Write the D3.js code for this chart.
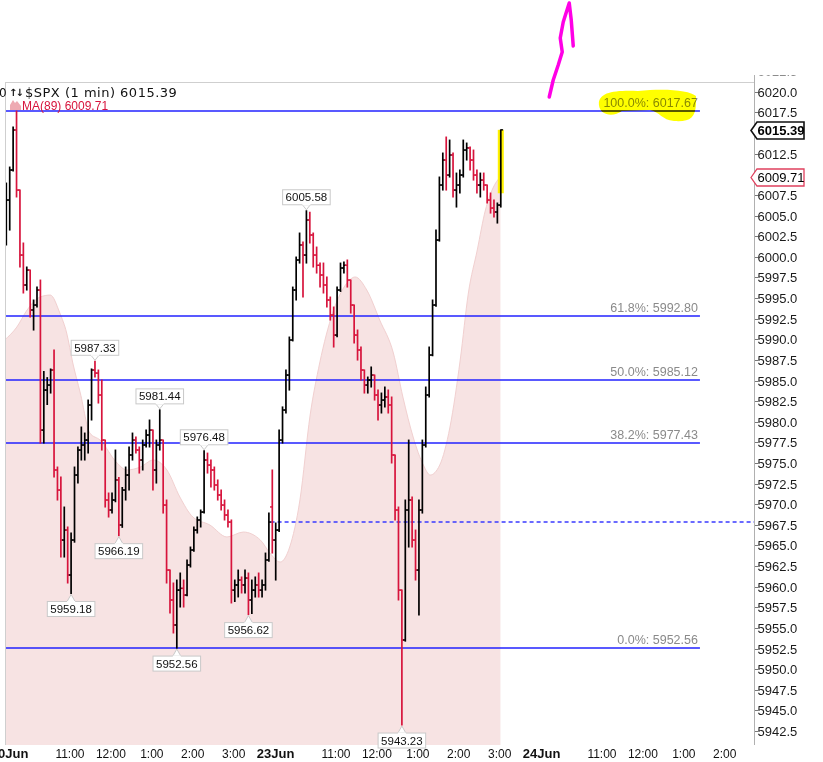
<!DOCTYPE html>
<html><head><meta charset="utf-8">
<script src="https://cdn.jsdelivr.net/npm/d3@7"></script>
<style>
html,body{margin:0;padding:0;background:#fff;}
svg{display:block;font-family:"Liberation Sans",Arial,sans-serif;}
</style></head><body>
<svg id="c" width="823" height="762"></svg>
<script>
// ---------- DATA ----------
const symbol = "$SPX (1 min)";
const lastPrice = 6015.39;
const maLabel = "MA(89)";
const maLast = 6009.71;
const prevClose = 5967.84;
const dayLabels = ["20Jun", "23Jun", "24Jun"];
const hourLabels = ["11:00", "12:00", "1:00", "2:00", "3:00"];
const hourMinutes = [90, 150, 210, 270, 330]; // minutes after the 9:30 open

// 5-minute OHLC bars, Friday 20 Jun
const jun20Open  = [6001.80,6006.88,6010.52,6015.37,6008.09,6000.21,5996.58,5998.39,5993.55,5994.15,5995.97,5978.99,5983.84,5984.45,5986.27,5974.15,5971.72,5965.66,5966.87,5961.42,5965.66,5973.54,5976.57,5977.18,5977.78,5982.03,5986.27,5985.90,5983.24,5977.78,5970.51,5969.30,5970.51,5972.94,5967.48,5971.72,5973.54,5975.97,5977.78,5976.57,5975.36,5977.18,5978.39,5978.99,5974.15,5977.18,5977.78,5969.90,5962.02,5958.39,5955.36,5959.59,5959.80,5958.99,5962.63,5964.45,5966.87,5968.09,5969.05,5975.36,5974.75,5974.15,5972.33,5971.12,5969.90,5968.69,5967.84,5959.59,5960.21,5960.81,5960.21,5961.05,5958.39,5959.59,5960.21,5959.59,5960.21,5963.24];
const jun20High  = [6008.94,6010.88,6015.73,6017.67,6008.09,6001.67,5998.76,5998.39,5994.76,5996.33,5997.18,5986.09,5985.35,5986.40,5988.70,5974.51,5973.30,5969.66,5967.24,5966.51,5974.51,5976.94,5979.36,5978.63,5982.63,5986.40,5987.33,5986.27,5985.06,5977.78,5971.36,5971.36,5976.57,5973.24,5972.03,5974.51,5976.94,5978.63,5978.15,5976.94,5977.78,5978.99,5980.21,5978.99,5977.78,5981.44,5977.78,5970.51,5962.02,5960.45,5960.81,5961.66,5960.81,5963.24,5964.81,5967.24,5968.45,5969.30,5976.48,5976.20,5975.36,5974.51,5972.94,5971.72,5970.51,5969.30,5968.09,5960.81,5962.02,5961.18,5962.02,5961.66,5960.81,5961.18,5961.66,5960.81,5964.08,5968.93];
const jun20Low   = [6001.43,6003.24,6010.40,6007.25,5998.76,5995.61,5995.97,5992.70,5991.12,5993.91,5977.42,5977.42,5982.09,5983.48,5973.30,5970.51,5963.60,5963.60,5960.45,5959.18,5965.40,5972.57,5975.36,5975.36,5976.21,5980.21,5985.42,5982.27,5976.57,5969.66,5968.45,5968.93,5970.30,5966.19,5967.20,5970.51,5971.72,5975.36,5976.21,5973.78,5974.15,5976.94,5976.94,5971.72,5972.57,5976.57,5968.93,5960.45,5956.81,5954.39,5952.56,5957.54,5957.54,5958.90,5962.39,5964.30,5966.51,5967.24,5968.93,5973.78,5972.09,5971.72,5970.51,5969.30,5968.09,5967.24,5958.03,5958.21,5958.76,5959.24,5959.24,5956.62,5956.75,5958.75,5958.75,5958.75,5959.59,5963.10];
const jun20Close = [6006.88,6010.52,6015.37,6008.09,6000.21,5996.58,5998.39,5993.55,5994.15,5995.97,5978.99,5983.84,5984.45,5986.27,5974.15,5971.72,5965.66,5966.87,5961.42,5965.66,5973.54,5976.57,5977.18,5977.78,5982.03,5986.27,5985.90,5983.24,5977.78,5970.51,5969.30,5970.51,5972.94,5967.48,5971.72,5973.54,5975.97,5977.78,5976.57,5975.36,5977.18,5978.39,5978.99,5974.15,5977.18,5977.78,5969.90,5962.02,5958.39,5955.36,5959.59,5959.80,5958.99,5962.63,5964.45,5966.87,5968.09,5969.05,5975.36,5974.75,5974.15,5972.33,5971.12,5969.90,5968.69,5967.84,5959.59,5960.21,5960.81,5960.21,5961.05,5958.39,5959.59,5960.21,5959.59,5960.21,5963.24,5967.84];

// 5-minute OHLC bars, Monday 23 Jun
const jun23Open  = [5969.67,5965.66,5966.87,5977.78,5981.42,5985.66,5989.91,5995.97,5999.61,6001.43,6000.21,6004.46,6002.64,6000.21,5998.97,5997.79,5996.58,5994.76,5992.94,5990.51,5995.97,5998.64,5998.97,5997.18,5994.15,5990.51,5988.70,5986.27,5984.45,5985.06,5985.66,5983.24,5982.03,5982.63,5983.00,5982.03,5975.97,5969.30,5959.59,5953.54,5969.30,5970.51,5965.66,5962.02,5969.30,5977.18,5983.24,5988.09,5994.15,6002.03,6008.70,6011.73,6009.91,6012.34,6008.09,6008.70,6009.91,6012.94,6013.20,6011.73,6009.91,6008.70,6009.30,6008.70,6006.88,6005.91,6005.43,6006.27];
const jun23High  = [5974.15,5967.72,5978.99,5981.80,5986.27,5990.27,5996.33,5999.97,6002.88,6001.80,6005.58,6005.40,6002.88,6001.18,5999.24,5999.24,5997.55,5995.12,5993.91,5996.33,5999.24,5999.37,5999.61,5997.18,5994.15,5991.12,5989.06,5986.27,5985.42,5986.64,5985.66,5983.85,5983.48,5984.21,5983.85,5983.00,5975.97,5969.66,5959.59,5970.51,5977.78,5970.87,5966.87,5970.51,5977.78,5984.21,5989.06,5994.76,6003.24,6009.67,6012.58,6014.52,6014.15,6012.58,6010.15,6010.52,6014.15,6013.79,6013.31,6012.94,6010.52,6010.15,6010.15,6008.70,6007.73,6006.88,6006.52,6015.39];
const jun23Low   = [5964.08,5960.81,5966.70,5977.42,5981.06,5983.84,5989.80,5994.76,5999.24,5995.12,5999.24,6001.67,5998.76,5998.03,5996.33,5995.61,5993.91,5992.33,5989.06,5990.30,5995.80,5998.03,5996.33,5993.18,5989.55,5987.48,5985.06,5983.48,5983.48,5984.21,5982.63,5980.21,5981.06,5981.79,5981.06,5975.00,5968.09,5958.39,5943.23,5953.40,5964.81,5964.81,5960.81,5956.57,5968.93,5976.94,5983.00,5988.00,5994.00,6001.90,6008.09,6008.09,6009.67,6007.25,6006.03,6007.73,6009.67,6011.73,6010.52,6009.30,6007.73,6007.25,6008.09,6006.52,6005.30,6004.82,6004.09,6006.03];
const jun23Close = [5965.66,5966.87,5977.78,5981.42,5985.66,5989.91,5995.97,5999.61,6001.43,6000.21,6004.46,6002.64,6000.21,5998.97,5997.79,5996.58,5994.76,5992.94,5990.51,5995.97,5998.64,5998.97,5997.18,5994.15,5990.51,5988.70,5986.27,5984.45,5985.06,5985.66,5983.24,5982.03,5982.63,5983.00,5982.03,5975.97,5969.30,5959.59,5953.54,5969.30,5970.51,5965.66,5962.02,5969.30,5977.18,5983.24,5988.09,5994.15,6002.03,6008.70,6011.73,6009.91,6012.34,6008.09,6008.70,6009.91,6012.94,6013.20,6011.73,6009.91,6008.70,6009.30,6008.70,6006.88,6005.91,6005.43,6006.27,6015.39];

// MA(89) read at selected minutes (minutes counted across sessions, 390 per day)
const maMinute = [0,18,33,52,67,81,91,100,111,125,140,165,179,199,218,238,257,276,301,326,350,375,389,404,418,433,448,462,481,502,514,531,550,570,584,599,614,624,638,653,668,680,693,705,716,727];
const maValue  = [5989.91,5991.49,5993.55,5995.12,5995.36,5993.18,5990.76,5987.12,5983.48,5978.63,5977.78,5974.99,5974.15,5974.51,5975.36,5974.15,5970.87,5968.45,5967.48,5966.03,5966.63,5965.66,5964.08,5962.99,5964.81,5970.51,5980.82,5987.12,5993.18,5996.82,5997.55,5995.97,5992.33,5988.33,5982.99,5978.15,5974.75,5973.54,5974.75,5979.36,5987.48,5995.61,6000.82,6005.67,6008.33,6009.71];

// Fibonacci retracement levels
const fibPct   = ["100.0%", "61.8%", "50.0%", "38.2%", "0.0%"];
const fibValue = [6017.67, 5992.80, 5985.12, 5977.43, 5952.56];

// swing high / low callouts: [day, bar index, type]
const swingDay  = [0, 0, 0, 1, 0, 0, 0, 0, 1];
const swingBar  = [26, 45, 58, 10, 19, 33, 50, 71, 38];
const swingType = ["H","H","H","H","L","L","L","L","L"];

// price-axis ticks (6010.0 and 6015.0 are covered by the value badges)
const yTicks = [5942.5,5945.0,5947.5,5950.0,5952.5,5955.0,5957.5,5960.0,5962.5,5965.0,5967.5,5970.0,5972.5,5975.0,5977.5,5980.0,5982.5,5985.0,5987.5,5990.0,5992.5,5995.0,5997.5,6000.0,6002.5,6005.0,6007.5,6012.5,6017.5,6020.0,6022.5];

// ---------- LAYOUT ----------
const W = 823, H = 762;
const plotL = 5, plotR = 754, plotT = 83, plotB = 745;
const minutesPerDay = 390;
const xS = d3.scaleLinear().domain([0, 1097]).range([4.6, 752.8]);
const yS = d3.scaleLinear().domain([5940.81, 6021.07]).range([plotB, plotT]);
const fibEndMinute = 1019.5;
const upColor = "#000000", downColor = "#d7143c";

const svg = d3.select("#c");
const defs = svg.append("defs");
defs.append("clipPath").attr("id","plotClip").append("rect")
  .attr("x",plotL).attr("y",plotT).attr("width",plotR-plotL).attr("height",plotB-plotT);
defs.append("clipPath").attr("id","axisClip").append("rect")
  .attr("x",plotR).attr("y",75.5).attr("width",W-plotR).attr("height",H-75.5);

svg.append("rect").attr("width",W).attr("height",H).attr("fill","#fff");

// bars
const dayBars = [[jun20Open,jun20High,jun20Low,jun20Close],[jun23Open,jun23High,jun23Low,jun23Close]];
const bars = [];
dayBars.forEach((a, d) => a[0].forEach((o, i) => bars.push({
  d, i, m: d*minutesPerDay + i*5 + 2.5, o, h: a[1][i], l: a[2][i], c: a[3][i]
})));

const plot = svg.append("g").attr("clip-path","url(#plotClip)");

// MA(89) shaded area
const maData = maMinute.map((m,i)=>({m, v: maValue[i]}));
plot.append("path").datum(maData)
  .attr("d", d3.area().curve(d3.curveMonotoneX).x(d=>xS(d.m)).y0(plotB).y1(d=>yS(d.v)))
  .attr("fill","#f7e3e3");
plot.append("path").datum(maData)
  .attr("d", d3.line().curve(d3.curveMonotoneX).x(d=>xS(d.m)).y(d=>yS(d.v)))
  .attr("fill","none").attr("stroke","#f1d0d0").attr("stroke-width",1);

// fib lines
plot.selectAll("line.fib").data(fibValue).join("line").attr("class","fib")
  .attr("x1",plotL).attr("x2",xS(fibEndMinute))
  .attr("y1",d=>Math.round(yS(d))).attr("y2",d=>Math.round(yS(d)))
  .attr("stroke","#2222ff").attr("stroke-width",1.5);

// previous close dashed line
plot.append("line")
  .attr("x1",xS(minutesPerDay)).attr("x2",plotR)
  .attr("y1",Math.round(yS(prevClose))).attr("y2",Math.round(yS(prevClose)))
  .attr("stroke","#3a3aff").attr("stroke-width",1.4).attr("stroke-dasharray","4,3");

// hand highlight behind last bar
const lastBar = bars[bars.length-1];
plot.append("rect")
  .attr("x",xS(lastBar.m)-3).attr("width",6)
  .attr("y",yS(lastBar.h)).attr("height",yS(6007.7)-yS(lastBar.h))
  .attr("fill","#fff200");

// OHLC bars
const bg = plot.selectAll("g.bar").data(bars).join("g").attr("class","bar")
  .attr("stroke", d => d.c >= d.o ? upColor : downColor);
bg.append("line").attr("x1",d=>xS(d.m)).attr("x2",d=>xS(d.m))
  .attr("y1",d=>yS(d.h)-0.5).attr("y2",d=>yS(d.l)+0.5).attr("stroke-width",1.7);
bg.append("line").attr("x1",d=>xS(d.m)-2.3).attr("x2",d=>xS(d.m))
  .attr("y1",d=>yS(d.o)).attr("y2",d=>yS(d.o)).attr("stroke-width",1.4);
bg.append("line").attr("x1",d=>xS(d.m)).attr("x2",d=>xS(d.m)+2.3)
  .attr("y1",d=>yS(d.c)).attr("y2",d=>yS(d.c)).attr("stroke-width",1.4);

// swing callouts
const swings = swingBar.map((b,k)=>{
  const bar = bars.find(q=>q.d===swingDay[k] && q.i===b);
  return {x: xS(bar.m), v: swingType[k]==="H" ? bar.h : bar.l, t: swingType[k]};
});
const sg = svg.append("g").selectAll("g").data(swings).join("g");
sg.each(function(d){
  const g = d3.select(this);
  const py = yS(d.v);
  const txt = d.v.toFixed(2);
  const t = g.append("text").attr("font-size",11.5).attr("fill","#111").attr("text-anchor","middle").text(txt);
  const tw = t.node().getComputedTextLength();
  const bw = tw + 6, bh = 15;
  let by, tri;
  if (d.t === "H") {
    by = py - 6 - bh;
    tri = `M${d.x-4},${by+bh} L${d.x},${py-1} L${d.x+4},${by+bh}`;
  } else {
    by = py + 8;
    tri = `M${d.x-4},${by} L${d.x},${py+1} L${d.x+4},${by}`;
  }
  g.insert("path","text").attr("d",tri).attr("fill","#fff").attr("stroke","#c9c9c9");
  g.insert("rect","text").attr("x",d.x-bw/2).attr("y",by).attr("width",bw).attr("height",bh)
    .attr("fill","#fff").attr("stroke","#c9c9c9");
  g.insert("rect","text").attr("x",d.x-4).attr("y", d.t==="H"? by+bh-1 : by-0.5).attr("width",8).attr("height",1.5).attr("fill","#fff");
  t.attr("x",d.x).attr("y",by+bh/2+4);
});

// fib labels
svg.append("g").selectAll("text").data(fibValue).join("text")
  .attr("x", xS(fibEndMinute)-2).attr("y", d=>Math.round(yS(d))-4)
  .attr("text-anchor","end").attr("font-size",12.5).attr("fill","#8a8a8a")
  .text((d,i)=>`${fibPct[i]}: ${d.toFixed(2)}`);

// yellow highlighter over the 100% label
svg.append("path")
  .attr("transform",`translate(${xS(fibEndMinute)},${yS(fibValue[0])})`)
  .attr("d","M-101,-6 C-102,-18 -88,-21 -62,-20 C-36,-23 -10,-21 -4,-15 L-4,-6 C-5,7 -10,11 -26,10 C-38,9 -40,1 -50,-1 L-78,0 C-86,6 -100,5 -101,-6 Z")
  .attr("fill","#ffff00").style("mix-blend-mode","multiply");

// frame
svg.append("line").attr("x1",plotL).attr("x2",plotR).attr("y1",82.5).attr("y2",82.5).attr("stroke","#cfcfcf");
svg.append("line").attr("x1",plotL+0.5).attr("x2",plotL+0.5).attr("y1",82.5).attr("y2",plotB).attr("stroke","#cfcfcf");
svg.append("line").attr("x1",plotR+0.5).attr("x2",plotR+0.5).attr("y1",75).attr("y2",plotB).attr("stroke","#b0b0b0");

// price axis
const ax = svg.append("g").attr("clip-path","url(#axisClip)");
const tk = ax.selectAll("g").data(yTicks).join("g").attr("transform",d=>`translate(0,${Math.round(yS(d))})`);
tk.append("line").attr("x1",plotR+1).attr("x2",plotR+4).attr("y1",0.5).attr("y2",0.5).attr("stroke","#777");
tk.append("text").attr("x",plotR+3.5).attr("dy","0.36em").attr("font-size",13).attr("fill","#1a1a1a")
  .text(d=>d.toFixed(1));

// value badges
function badge(v, bold, color){
  const cy = Math.round(yS(v)) + 0.5;
  const x0 = plotR - 3, x1 = plotR + 3, x2 = plotR + 50;
  svg.append("path")
    .attr("d",`M${x0},${cy} L${x1},${cy-8.5} L${x2},${cy-8.5} L${x2},${cy+8.5} L${x1},${cy+8.5} Z`)
    .attr("fill","#fff").attr("stroke",color).attr("stroke-width",bold?1.6:1.3);
  svg.append("text").attr("x",plotR+3.5).attr("y",cy).attr("dy","0.36em")
    .attr("font-size",13).attr("font-weight",bold?"bold":"normal").attr("fill","#000")
    .text(v.toFixed(2));
}
badge(lastPrice, true, "#111");
badge(maLast, false, "#e0405e");

// header
svg.append("text").attr("x",-1).attr("y",97).attr("font-family","DejaVu Sans").attr("font-size",12).attr("fill","#111").text("0");
svg.append("text").attr("x",9).attr("y",96).attr("font-family","DejaVu Sans").attr("font-size",10).attr("font-weight","bold")
  .attr("letter-spacing",-2).attr("fill","#111").text("↑↓");
svg.append("text").attr("x",25).attr("y",97).attr("font-family","DejaVu Sans").attr("font-size",13)
  .attr("letter-spacing",0.5).attr("fill","#111").text(`${symbol} ${lastPrice.toFixed(2)}`);
svg.append("path").attr("d","M10,110 L10,105 L13,100 L15,103 L17,101 L21,106 L21,110 Z").attr("fill","#eeaab2");
svg.append("text").attr("x",22).attr("y",109.5).attr("font-size",12).attr("fill","#d7143c")
  .text(`${maLabel} ${maLast.toFixed(2)}`);

// time axis
const hourTicks = [];
dayLabels.forEach((dl, d) => hourMinutes.forEach((hm, k) => hourTicks.push({m: d*minutesPerDay + hm, t: hourLabels[k]})));
const shownHours = hourTicks.filter(d => xS(d.m) + 20 < plotR);
svg.append("g").selectAll("text").data(shownHours).join("text")
  .attr("x",d=>xS(d.m)+4).attr("y",757.5).attr("text-anchor","middle").attr("font-size",12).attr("fill","#111")
  .text(d=>d.t);
svg.append("g").selectAll("text").data(dayLabels).join("text")
  .attr("x",(d,i)=>xS(i*minutesPerDay)+5).attr("y",757.5).attr("text-anchor","middle")
  .attr("font-size",13).attr("font-weight","bold").attr("fill","#111")
  .text(d=>d);

// hand-drawn magenta arrow
svg.append("path")
  .attr("transform",`translate(${xS(800)},0)`)
  .attr("d","M-1,97 L3,80 L8,65 L12,52 L10,38 L13,22 L19,3 L21,20 L23,46")
  .attr("fill","none").attr("stroke","#ff00e6").attr("stroke-width",3.5)
  .attr("stroke-linecap","round").attr("stroke-linejoin","round");
</script>
</body></html>
